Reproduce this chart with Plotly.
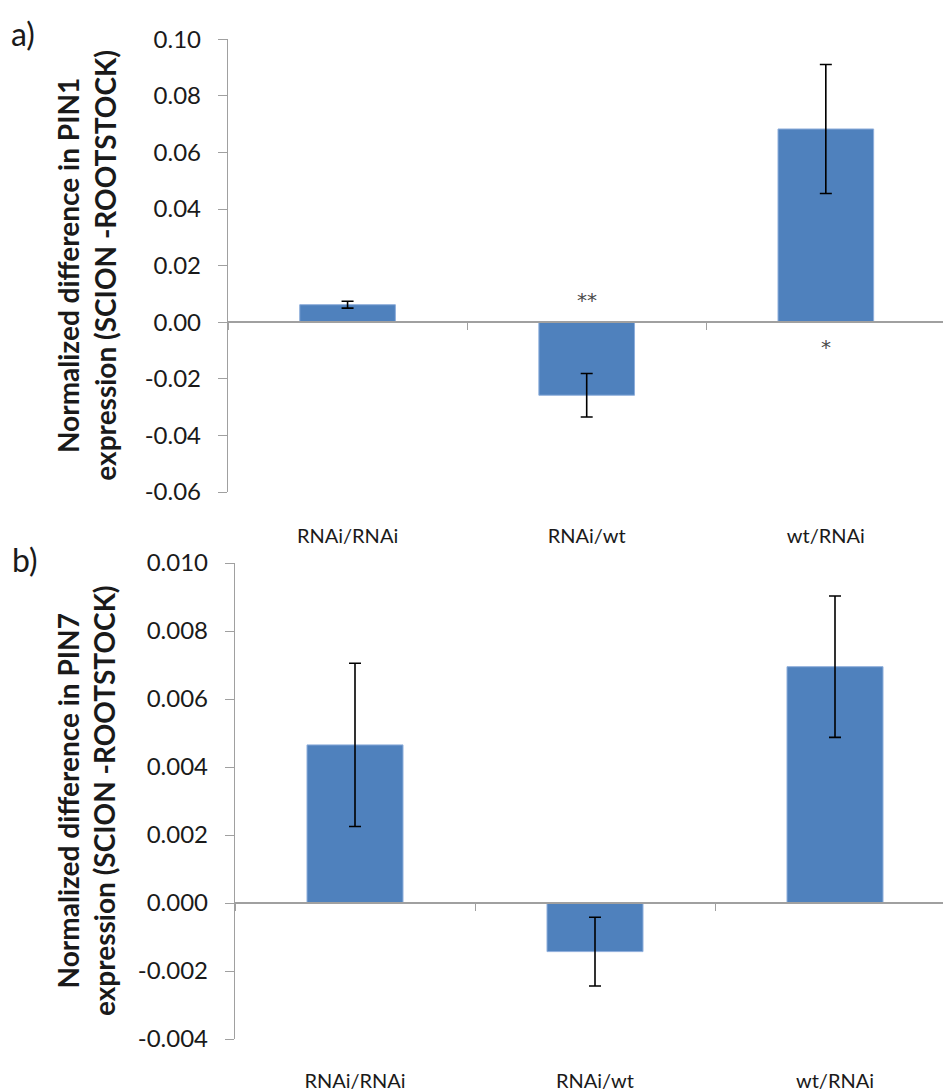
import plotly.graph_objects as go

# ---- data ----
categories = ["RNAi/RNAi", "RNAi/wt", "wt/RNAi"]

pin1_values = [0.0062, -0.0258, 0.0683]
pin1_errors = [0.0012, 0.0077, 0.0228]
pin1_significance = ["", "**", "*"]

pin7_values = [0.00465, -0.00143, 0.00695]
pin7_errors = [0.0024, 0.00101, 0.00208]

pin1_ticks = [-0.06, -0.04, -0.02, 0.00, 0.02, 0.04, 0.06, 0.08, 0.10]
pin7_ticks = [-0.004, -0.002, 0.000, 0.002, 0.004, 0.006, 0.008, 0.010]

pin1_title = "Normalized difference in PIN1<br>expression (SCION -ROOTSTOCK)"
pin7_title = "Normalized difference in PIN7<br>expression (SCION -ROOTSTOCK)"

# ---- style ----
W, H = 943, 1091
FONT = "Lato"
TXT = "#1a1a1a"
AX = "#a0a0a0"
BAR = "#4f81bd"
BAR_EDGE = "#8eaedb"

top_dom = [1 - 492 / H, 1 - 39.3 / H]
bot_dom = [1 - 1039 / H, 1 - 563 / H]
top_range = [pin1_ticks[0], pin1_ticks[-1]]
bot_range = [pin7_ticks[0], pin7_ticks[-1]]


def zero_pos(dom, rng):
    return dom[0] + (0 - rng[0]) / (rng[1] - rng[0]) * (dom[1] - dom[0])


fig = go.Figure()

err_style = dict(type="data", visible=True, color="#000000", thickness=1.6, width=6)

fig.add_trace(go.Bar(
    x=categories, y=pin1_values, xaxis="x", yaxis="y",
    marker=dict(color=BAR, line=dict(color=BAR_EDGE, width=1)),
    width=0.4, showlegend=False,
    error_y=dict(array=pin1_errors, **err_style),
))
fig.add_trace(go.Bar(
    x=categories, y=pin7_values, xaxis="x2", yaxis="y2",
    marker=dict(color=BAR, line=dict(color=BAR_EDGE, width=1)),
    width=0.4, showlegend=False,
    error_y=dict(array=pin7_errors, **err_style),
))
# helper traces so the zero-line category axes are drawn
fig.add_trace(go.Scatter(x=categories, y=[None] * 3, xaxis="x3", yaxis="y",
                         mode="markers", showlegend=False, hoverinfo="skip"))
fig.add_trace(go.Scatter(x=categories, y=[None] * 3, xaxis="x4", yaxis="y2",
                         mode="markers", showlegend=False, hoverinfo="skip"))

cat_label_axis = dict(
    type="category", categoryorder="array", categoryarray=categories,
    showline=False, ticks="", showgrid=False, zeroline=False, automargin=False,
    tickfont=dict(family=FONT, size=20, color=TXT),
)
zero_axis = dict(
    type="category", categoryorder="array", categoryarray=categories,
    showline=True, linecolor=AX, linewidth=1.6, automargin=False,
    ticks="outside", ticklen=7, tickwidth=1.4, tickcolor=AX,
    tickson="boundaries", showticklabels=False, showgrid=False, zeroline=False,
)
value_axis = dict(
    showline=True, linecolor=AX, linewidth=1.4, automargin=False,
    ticks="outside", ticklen=9, tickwidth=1.4, tickcolor=AX,
    showgrid=False, zeroline=False,
    tickfont=dict(family=FONT, size=24, color=TXT),
    ticklabelstandoff=12,
)

fig.update_layout(
    width=W, height=H, autosize=False,
    margin=dict(l=0, r=0, t=0, b=0, pad=0, autoexpand=False),
    paper_bgcolor="white", plot_bgcolor="white",
    bargap=0.6,
    xaxis=dict(domain=[228 / W, 1], anchor="y", range=[-0.5, 2.49],
               ticklabelstandoff=30, **cat_label_axis),
    xaxis2=dict(domain=[235 / W, 1], anchor="y2", range=[-0.5, 2.45],
                ticklabelstandoff=28, **cat_label_axis),
    xaxis3=dict(overlaying="x", anchor="free", position=zero_pos(top_dom, top_range),
                range=[-0.5, 2.49], **zero_axis),
    xaxis4=dict(overlaying="x2", anchor="free", position=zero_pos(bot_dom, bot_range),
                range=[-0.5, 2.45], **zero_axis),
    yaxis=dict(domain=top_dom, anchor="x", range=top_range,
               tickvals=pin1_ticks, ticktext=[f"{v:.2f}" for v in pin1_ticks],
               **value_axis),
    yaxis2=dict(domain=bot_dom, anchor="x2", range=bot_range,
                tickvals=pin7_ticks, ticktext=[f"{v:.3f}" for v in pin7_ticks],
                **value_axis),
)

annotations = []
# axis titles
for title, dom in ((pin1_title, top_dom), (pin7_title, bot_dom)):
    annotations.append(dict(
        text=title, textangle=-90, xref="paper", yref="paper",
        x=86 / W, y=(dom[0] + dom[1]) / 2, xanchor="center", yanchor="middle",
        showarrow=False, font=dict(family=FONT, size=28, color=TXT, weight="bold"),
    ))
# panel labels
annotations.append(dict(text="a)", xref="paper", yref="paper", x=9 / W, y=1 - 12 / H,
                        xanchor="left", yanchor="top", showarrow=False,
                        font=dict(family=FONT, size=32, color=TXT)))
annotations.append(dict(text="b)", xref="paper", yref="paper", x=10 / W, y=1 - 538 / H,
                        xanchor="left", yanchor="top", showarrow=False,
                        font=dict(family=FONT, size=32, color=TXT)))
# significance markers
for cat, val, sig in zip(categories, pin1_values, pin1_significance):
    if sig:
        annotations.append(dict(
            text=sig, x=cat, y=0, xref="x", yref="y", showarrow=False,
            yshift=22 if val < 0 else -25,
            font=dict(family="DejaVu Sans", size=20, color="#4a4a4a"),
        ))
fig.update_layout(annotations=annotations)

fig.write_html("out.html", config={"displayModeBar": False},
               post_script="document.body.style.margin='0';")
